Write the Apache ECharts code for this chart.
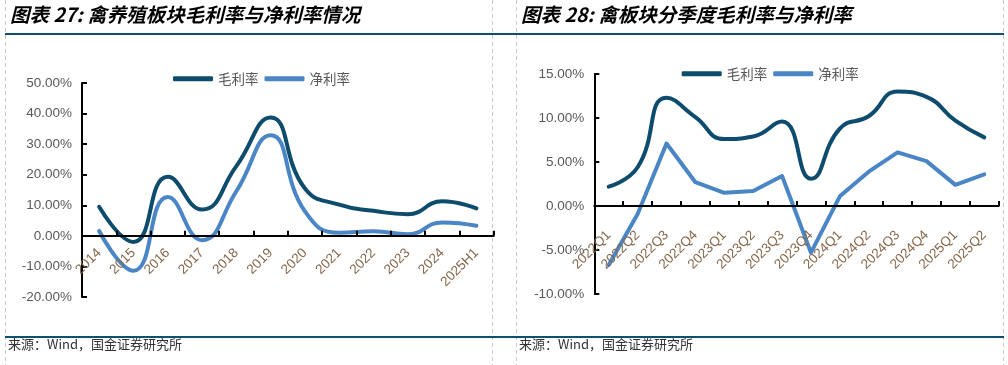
<!DOCTYPE html>
<html>
<head>
<meta charset="utf-8">
<script src="https://cdn.jsdelivr.net/npm/echarts@6/dist/echarts.min.js"></script>
<style>
html,body{margin:0;padding:0;background:#fff;}
#c{width:1008px;height:365px;}
</style>
</head>
<body>
<div id="c"></div>
<script>
// Left chart: annual data
var yearCats = ['2014','2015','2016','2017','2018','2019','2020','2021','2022','2023','2024','2025H1'];
var yearGross = [9.5, -2.0, 19.3, 8.6, 22.8, 38.7, 15.5, 10.2, 8.2, 7.1, 11.3, 9.0];
var yearNet = [1.6, -11.4, 12.7, -1.4, 14.6, 32.9, 8.0, 1.0, 1.5, 0.5, 4.4, 3.3];
var leftTicks = [-20, -10, 0, 10, 20, 30, 40, 50];

// Right chart: quarterly data
var qCats = ['2022Q1','2022Q2','2022Q3','2022Q4','2023Q1','2023Q2','2023Q3','2023Q4','2024Q1','2024Q2','2024Q3','2024Q4','2025Q1','2025Q2'];
var qGross = [2.2, 4.4, 12.3, 10.1, 7.6, 7.9, 9.6, 3.1, 8.8, 10.2, 13.0, 12.4, 9.7, 7.8];
var qNet = [-6.7, -0.9, 7.1, 2.7, 1.5, 1.7, 3.4, -5.3, 1.1, 3.9, 6.1, 5.1, 2.4, 3.6];
var rightTicks = [-10, -5, 0, 5, 10, 15];

var seriesNames = ['毛利率', '净利率'];
var titles = ['图表 27: 禽养殖板块毛利率与净利率情况', '图表 28: 禽板块分季度毛利率与净利率'];
var sourceText = '来源：Wind，国金证券研究所';

var DARK = '#0e4c6d', LIGHT = '#4a86c5', NAVY = '#0f4f72';
var grids = [
  {left: 82, top: 83, width: 411.6, height: 214},
  {left: 594.3, top: 74, width: 404.4, height: 220}
];
var labelMargins = [15, 27];
var chart = echarts.init(document.getElementById('c'), null, {renderer: 'canvas'});

function pct(v){ return v.toFixed(2) + '%'; }

// offset that lifts the category axis to the zero line of the value axis
function zeroOffset(g, ticks){
  var mn = ticks[0], mx = ticks[ticks.length-1];
  return -g.height * (0 - mn) / (mx - mn);
}

function xAxisCfg(idx, cats, ticks){
  return {
    type: 'category', gridIndex: idx, data: cats, boundaryGap: true,
    position: 'bottom', offset: zeroOffset(grids[idx], ticks), z: 5,
    axisLine: {show: true, onZero: false, lineStyle: {color: '#000', width: 2}},
    axisTick: {show: true, inside: true, length: 5, lineStyle: {color: '#000', width: 2}},
    axisLabel: {rotate: 45, interval: 0, margin: labelMargins[idx], color: '#86674a', fontSize: 13.5, fontFamily: 'Liberation Sans'},
    splitLine: {show: false}
  };
}
function yAxisCfg(idx, ticks){
  return {
    type: 'value', gridIndex: idx, min: ticks[0], max: ticks[ticks.length-1],
    interval: ticks[1]-ticks[0], position: 'left', z: 5,
    axisLine: {show: true, onZero: false, lineStyle: {color: '#000', width: 2}},
    axisTick: {show: true, inside: true, length: 5, lineStyle: {color: '#000', width: 2}},
    axisLabel: {formatter: pct, margin: 10, color: '#595959', fontSize: 13.5, fontFamily: 'Liberation Sans'},
    splitLine: {show: false}
  };
}
function lineSeries(name, idx, data, color, smooth){
  return {
    name: name, type: 'line', xAxisIndex: idx, yAxisIndex: idx, data: data,
    smooth: smooth, showSymbol: false, symbol: 'none', z: 1,
    lineStyle: {color: color, width: 4, cap: 'round', join: 'round'},
    itemStyle: {color: color}
  };
}

var dashStyle = {stroke: '#c8c8c8', lineWidth: 1, lineDash: [4, 3]};
var option = {
  backgroundColor: '#fff',
  animation: false,
  grid: grids,
  legend: [
    {data: seriesNames, left: 168, top: 67, itemWidth: 40, itemHeight: 5, itemGap: 6, icon: 'roundRect',
     textStyle: {color: '#595959', fontSize: 13.5, fontFamily: 'Noto Sans CJK SC'}},
    {data: seriesNames, left: 676.7, top: 62, itemWidth: 40, itemHeight: 5, itemGap: 6, icon: 'roundRect',
     textStyle: {color: '#595959', fontSize: 13.5, fontFamily: 'Noto Sans CJK SC'}}
  ],
  xAxis: [xAxisCfg(0, yearCats, leftTicks), xAxisCfg(1, qCats, rightTicks)],
  yAxis: [yAxisCfg(0, leftTicks), yAxisCfg(1, rightTicks)],
  series: [
    lineSeries(seriesNames[0], 0, yearGross, DARK, true),
    lineSeries(seriesNames[1], 0, yearNet, LIGHT, true),
    lineSeries(seriesNames[0], 1, qGross, DARK, true),
    lineSeries(seriesNames[1], 1, qNet, LIGHT, false)
  ],
  graphic: [
    {type: 'line', shape: {x1: 5.5, y1: 0, x2: 5.5, y2: 365}, style: dashStyle, silent: true},
    {type: 'line', shape: {x1: 492.5, y1: 0, x2: 492.5, y2: 365}, style: dashStyle, silent: true},
    {type: 'line', shape: {x1: 516.5, y1: 0, x2: 516.5, y2: 365}, style: dashStyle, silent: true},
    {type: 'line', shape: {x1: 1003.5, y1: 0, x2: 1003.5, y2: 365}, style: dashStyle, silent: true},
    {type: 'line', shape: {x1: 5, y1: 34, x2: 1004, y2: 34}, style: {stroke: NAVY, lineWidth: 2}, silent: true},
    {type: 'line', shape: {x1: 5, y1: 337, x2: 1004, y2: 337}, style: {stroke: NAVY, lineWidth: 2}, silent: true},
    {type: 'text', left: 10, top: 5, style: {text: titles[0], fill: '#000', font: 'italic bold 19.5px "Noto Sans CJK SC"'}},
    {type: 'text', left: 521, top: 5, style: {text: titles[1], fill: '#000', font: 'italic bold 19.5px "Noto Sans CJK SC"'}},
    {type: 'text', left: 8, top: 338, style: {text: sourceText, fill: '#333', font: '13px "Noto Sans CJK SC"'}},
    {type: 'text', left: 519, top: 338, style: {text: sourceText, fill: '#333', font: '13px "Noto Sans CJK SC"'}}
  ]
};
chart.setOption(option);
</script>
</body>
</html>
